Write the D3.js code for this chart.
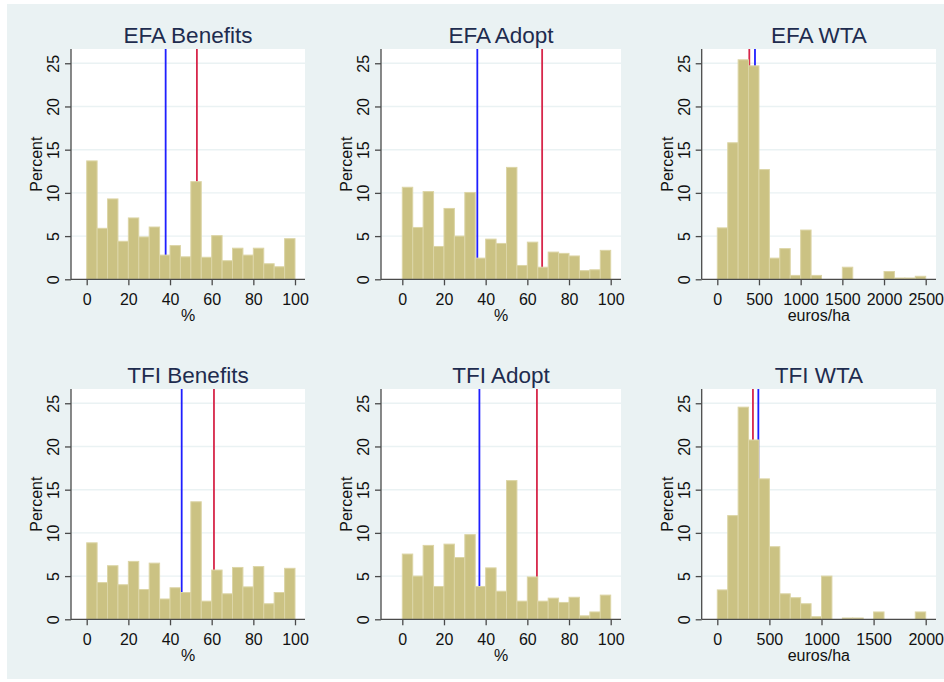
<!DOCTYPE html>
<html>
<head>
<meta charset="utf-8">
<script src="https://cdn.jsdelivr.net/npm/d3@7"></script>
<style>
  html, body { margin: 0; padding: 0; background: #ffffff; }
  svg { display: block; }
  text { font-family: "Liberation Sans", Arial, sans-serif; }
</style>
</head>
<body>
<svg id="chart" width="944" height="682"></svg>
<script>
// ---------------- DATA ----------------
const panelTitles = ["EFA Benefits", "EFA Adopt", "EFA WTA", "TFI Benefits", "TFI Adopt", "TFI WTA"];
const xAxisTitles = ["%", "%", "euros/ha", "%", "%", "euros/ha"];
const yAxisTitle = "Percent";

const pctBinStarts = [0, 5, 10, 15, 20, 25, 30, 35, 40, 45, 50, 55, 60, 65, 70, 75, 80, 85, 90, 95];
const pctBinWidth = 5;
const efaWtaBinStarts = [0, 125, 250, 375, 500, 625, 750, 875, 1000, 1125, 1250, 1375, 1500, 1625, 1750, 1875, 2000, 2125, 2250, 2375];
const efaWtaBinWidth = 125;
const tfiWtaBinStarts = [0, 100, 200, 300, 400, 500, 600, 700, 800, 900, 1000, 1100, 1200, 1300, 1400, 1500, 1600, 1700, 1800, 1900];
const tfiWtaBinWidth = 100;

const efaBenefits = [13.7, 5.9, 9.3, 4.4, 7.1, 4.9, 6.05, 2.8, 3.9, 2.6, 11.3, 2.55, 5.05, 2.15, 3.6, 2.8, 3.6, 1.8, 1.45, 4.7];
const efaAdopt    = [10.65, 6.0, 10.15, 3.8, 8.2, 5.0, 10.05, 2.45, 4.65, 4.15, 12.95, 1.6, 4.3, 1.4, 3.15, 3.0, 2.7, 1.0, 1.1, 3.35];
const efaWta      = [5.95, 15.8, 25.4, 24.7, 12.7, 2.45, 3.55, 0.45, 5.7, 0.45, 0, 0, 1.4, 0, 0, 0, 0.9, 0.15, 0.15, 0.35];
const tfiBenefits = [8.85, 4.25, 6.2, 4.0, 6.7, 3.45, 6.5, 2.35, 3.65, 3.1, 13.6, 2.1, 5.7, 2.95, 6.0, 3.75, 6.1, 1.8, 3.1, 5.9];
const tfiAdopt    = [7.55, 5.0, 8.55, 3.8, 8.7, 7.15, 9.8, 3.8, 5.95, 3.25, 16.05, 2.1, 4.9, 2.1, 2.45, 1.95, 2.55, 0.4, 0.85, 2.8];
const tfiWta      = [3.4, 12.0, 24.55, 20.75, 16.25, 8.4, 2.95, 2.5, 1.8, 0.3, 5.0, 0, 0.15, 0.15, 0, 0.85, 0, 0, 0, 0.85];

const blueLines = [37.9, 36.0, 452, 45.6, 37.0, 394];
const redLines  = [52.9, 67.1, 384, 61.1, 64.6, 342];

const pctTicks = [0, 20, 40, 60, 80, 100];
const efaWtaTicks = [0, 500, 1000, 1500, 2000, 2500];
const tfiWtaTicks = [0, 500, 1000, 1500, 2000];
const yTicks = [0, 5, 10, 15, 20, 25];

// ---------------- PANEL SETUP ----------------
const panels = [
  { title: panelTitles[0], xt: xAxisTitles[0], values: efaBenefits, starts: pctBinStarts, bw: pctBinWidth, ticks: pctTicks, blue: blueLines[0], red: redLines[0] },
  { title: panelTitles[1], xt: xAxisTitles[1], values: efaAdopt,    starts: pctBinStarts, bw: pctBinWidth, ticks: pctTicks, blue: blueLines[1], red: redLines[1] },
  { title: panelTitles[2], xt: xAxisTitles[2], values: efaWta,      starts: efaWtaBinStarts, bw: efaWtaBinWidth, ticks: efaWtaTicks, blue: blueLines[2], red: redLines[2] },
  { title: panelTitles[3], xt: xAxisTitles[3], values: tfiBenefits, starts: pctBinStarts, bw: pctBinWidth, ticks: pctTicks, blue: blueLines[3], red: redLines[3] },
  { title: panelTitles[4], xt: xAxisTitles[4], values: tfiAdopt,    starts: pctBinStarts, bw: pctBinWidth, ticks: pctTicks, blue: blueLines[4], red: redLines[4] },
  { title: panelTitles[5], xt: xAxisTitles[5], values: tfiWta,      starts: tfiWtaBinStarts, bw: tfiWtaBinWidth, ticks: tfiWtaTicks, blue: blueLines[5], red: redLines[5] }
];

// layout (pixels)
const colLayout = [
  { left: 71,    right: 305, x0: 86.7,  x1: 295.0 },
  { left: 381,   right: 621, x0: 402.3, x1: 610.7 },
  { left: 701.7, right: 936, x0: 717.3, x1: 925.7 }
];
const rowLayout = [
  { top: 49,  bottom: 279.3 },
  { top: 389, bottom: 619.3 }
];
const yTopVal = 26.65;

const C = {
  bg: "#eaf2f3",
  plot: "#ffffff",
  grid: "#eaf2f3",
  barFill: "#cbc283",
  barStroke: "#dcd5a6",
  axis: "#4a4a4a",
  title: "#1e2c4f",
  text: "#111111",
  blue: "#1f1fff",
  red: "#d7264a"
};

const svg = d3.select("#chart");
svg.append("rect").attr("x", 7).attr("y", 4).attr("width", 937).attr("height", 675).attr("fill", C.bg);

panels.forEach((p, i) => {
  const col = colLayout[i % 3];
  const row = rowLayout[Math.floor(i / 3)];
  const lastTick = p.ticks[p.ticks.length - 1];
  const x = d3.scaleLinear().domain([0, lastTick]).range([col.x0, col.x1]);
  const y = d3.scaleLinear().domain([0, 25]).range([row.bottom, row.bottom - 25 * (row.bottom - row.top) / yTopVal]);

  const g = svg.append("g");

  // plot area
  g.append("rect")
    .attr("x", col.left).attr("y", row.top)
    .attr("width", col.right - col.left).attr("height", row.bottom - row.top)
    .attr("fill", C.plot);

  // gridlines
  g.selectAll("line.grid").data(yTicks.filter(t => t > 0)).enter().append("line")
    .attr("class", "grid")
    .attr("x1", col.left).attr("x2", col.right)
    .attr("y1", d => y(d)).attr("y2", d => y(d))
    .attr("stroke", C.grid).attr("stroke-width", 1.4);

  // reference lines (drawn before bars so bars cover them)
  [[p.blue, C.blue], [p.red, C.red]].forEach(([v, c]) => {
    g.append("line")
      .attr("x1", x(v)).attr("x2", x(v))
      .attr("y1", row.top).attr("y2", row.bottom)
      .attr("stroke", c).attr("stroke-width", 1.8);
  });

  // bars
  g.selectAll("rect.bar").data(p.values.map((v, k) => ({ v, s: p.starts[k] }))).enter().append("rect")
    .attr("class", "bar")
    .filter(d => d.v > 0)
    .attr("x", d => x(d.s))
    .attr("width", d => x(d.s + p.bw) - x(d.s))
    .attr("y", d => y(d.v))
    .attr("height", d => y(0) - y(d.v))
    .attr("fill", C.barFill)
    .attr("stroke", C.barStroke)
    .attr("stroke-width", 1);

  // y axis
  const yAxis = d3.axisLeft(y).tickValues(yTicks).tickSize(6).tickFormat(d3.format("d"));
  const ya = g.append("g").attr("transform", `translate(${col.left},0)`).call(yAxis);
  ya.select(".domain").remove();
  ya.append("line").attr("x1", 0).attr("x2", 0).attr("y1", row.top).attr("y2", row.bottom)
    .attr("stroke", C.axis).attr("stroke-width", 1.3);
  ya.selectAll(".tick line").attr("stroke", C.axis).attr("stroke-width", 1.3);
  ya.selectAll(".tick text")
    .attr("fill", C.text)
    .style("font-size", "16px")
    .attr("x", 0).attr("dy", 0)
    .attr("text-anchor", "middle")
    .attr("transform", "translate(-12,0) rotate(-90)");

  // x axis
  const xAxis = d3.axisBottom(x).tickValues(p.ticks).tickSize(6).tickFormat(d3.format("d"));
  const xa = g.append("g").attr("transform", `translate(0,${row.bottom})`).call(xAxis);
  xa.select(".domain").remove();
  xa.append("line").attr("x1", col.left).attr("x2", col.right).attr("y1", 0).attr("y2", 0)
    .attr("stroke", C.axis).attr("stroke-width", 1.3);
  xa.selectAll(".tick line").attr("stroke", C.axis).attr("stroke-width", 1.3);
  xa.selectAll(".tick text")
    .attr("fill", C.text)
    .style("font-size", "16px")
    .attr("y", 0).attr("dy", 0)
    .attr("transform", "translate(0,25.5)");

  // y axis title
  g.append("text")
    .attr("transform", `translate(${col.left - 29},${(row.top + row.bottom) / 2}) rotate(-90)`)
    .attr("text-anchor", "middle")
    .attr("fill", C.text)
    .style("font-size", "16px")
    .text(yAxisTitle);

  // x axis title
  g.append("text")
    .attr("x", (col.left + col.right) / 2)
    .attr("y", row.bottom + 41.5)
    .attr("text-anchor", "middle")
    .attr("fill", C.text)
    .style("font-size", "16px")
    .text(p.xt);

  // panel title
  g.append("text")
    .attr("x", (col.left + col.right) / 2)
    .attr("y", row.top - 6.5)
    .attr("text-anchor", "middle")
    .attr("fill", C.title)
    .style("font-size", "22.5px")
    .text(p.title);
});
</script>
</body>
</html>
